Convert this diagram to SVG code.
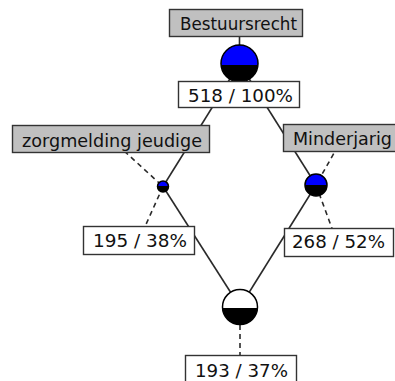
<svg xmlns="http://www.w3.org/2000/svg" width="395" height="381" viewBox="0 0 395 381">
<style>
.bg{fill:#ffffff}
.edge{stroke:#2a2a2a;stroke-width:1.6;fill:none}
.dash{stroke:#2a2a2a;stroke-width:1.6;fill:none;stroke-dasharray:5 4}
.lab{fill:#c0c0c0;stroke:#333333;stroke-width:1.4}
.val{fill:#ffffff;stroke:#333333;stroke-width:1.4}
.t{font-family:"DejaVu Sans","Liberation Sans",sans-serif;font-size:17px;fill:#111111}
.ring{fill:none;stroke:#000000;stroke-width:1.5}
.blue{fill:#0000ff}
.black{fill:#000000}
.white{fill:#ffffff}
</style>
<rect class="bg" x="0" y="0" width="395" height="381"/>
<g id="connectors">
<line class="edge" x1="239.5" y1="37" x2="239.5" y2="45"/>
<line class="edge" x1="239.5" y1="63.5" x2="163" y2="186.5"/>
<line class="edge" x1="239.5" y1="63.5" x2="316" y2="185"/>
<line class="edge" x1="163" y1="186.5" x2="240" y2="307"/>
<line class="edge" x1="316" y1="185" x2="240" y2="307"/>
<line class="dash" x1="111" y1="139" x2="163" y2="186.5"/>
<line class="dash" x1="163" y1="186.5" x2="139" y2="240"/>
<line class="dash" x1="342.5" y1="138" x2="316" y2="185"/>
<line class="dash" x1="316" y1="185" x2="337" y2="242"/>
<line class="dash" x1="240" y1="325" x2="240" y2="355"/>
</g>
<g id="node-bestuursrecht">
<circle class="black" cx="239.5" cy="63.5" r="18.5"/>
<path class="blue" d="M221.06,65 A18.5 18.5 0 1 1 257.94,65 Z"/>
<circle class="ring" cx="239.5" cy="63.5" r="18.5"/>
<rect class="lab" x="169.5" y="9.5" width="133" height="27"/>
<text class="t" x="180" y="30" textLength="117" lengthAdjust="spacingAndGlyphs">Bestuursrecht</text>
<rect class="val" x="178.5" y="81.5" width="121" height="26"/>
<text class="t" x="188" y="102" textLength="105" lengthAdjust="spacingAndGlyphs">518 / 100%</text>
</g>
<g id="node-zorgmelding">
<circle class="black" cx="163" cy="186.5" r="5.5"/>
<path class="blue" d="M157.52,186 A5.5 5.5 0 0 1 168.48,186 Z"/>
<circle class="ring" cx="163" cy="186.5" r="5.5"/>
<rect class="lab" x="12.5" y="125.5" width="197" height="27"/>
<text class="t" x="22" y="147" textLength="180" lengthAdjust="spacingAndGlyphs">zorgmelding jeudige</text>
<rect class="val" x="83.5" y="226.5" width="111" height="28"/>
<text class="t" x="93" y="247" textLength="94" lengthAdjust="spacingAndGlyphs">195 / 38%</text>
</g>
<g id="node-minderjarig">
<circle class="black" cx="316" cy="185" r="11"/>
<path class="blue" d="M305,185 A11 11 0 0 1 327,185 Z"/>
<circle class="ring" cx="316" cy="185" r="11"/>
<rect class="lab" x="283.5" y="124.5" width="118" height="27"/>
<text class="t" x="293" y="145" textLength="99" lengthAdjust="spacingAndGlyphs">Minderjarig</text>
<rect class="val" x="284.5" y="228.5" width="109" height="28"/>
<text class="t" x="292" y="248" textLength="93" lengthAdjust="spacingAndGlyphs">268 / 52%</text>
</g>
<g id="node-result">
<circle class="white" cx="240" cy="307" r="17.5"/>
<path class="black" d="M222.53,308 A17.5 17.5 0 0 0 257.47,308 Z"/>
<circle class="ring" cx="240" cy="307" r="17.5"/>
<rect class="val" x="185.5" y="355.5" width="111" height="30"/>
<text class="t" x="195" y="377" textLength="93" lengthAdjust="spacingAndGlyphs">193 / 37%</text>
</g>
</svg>
